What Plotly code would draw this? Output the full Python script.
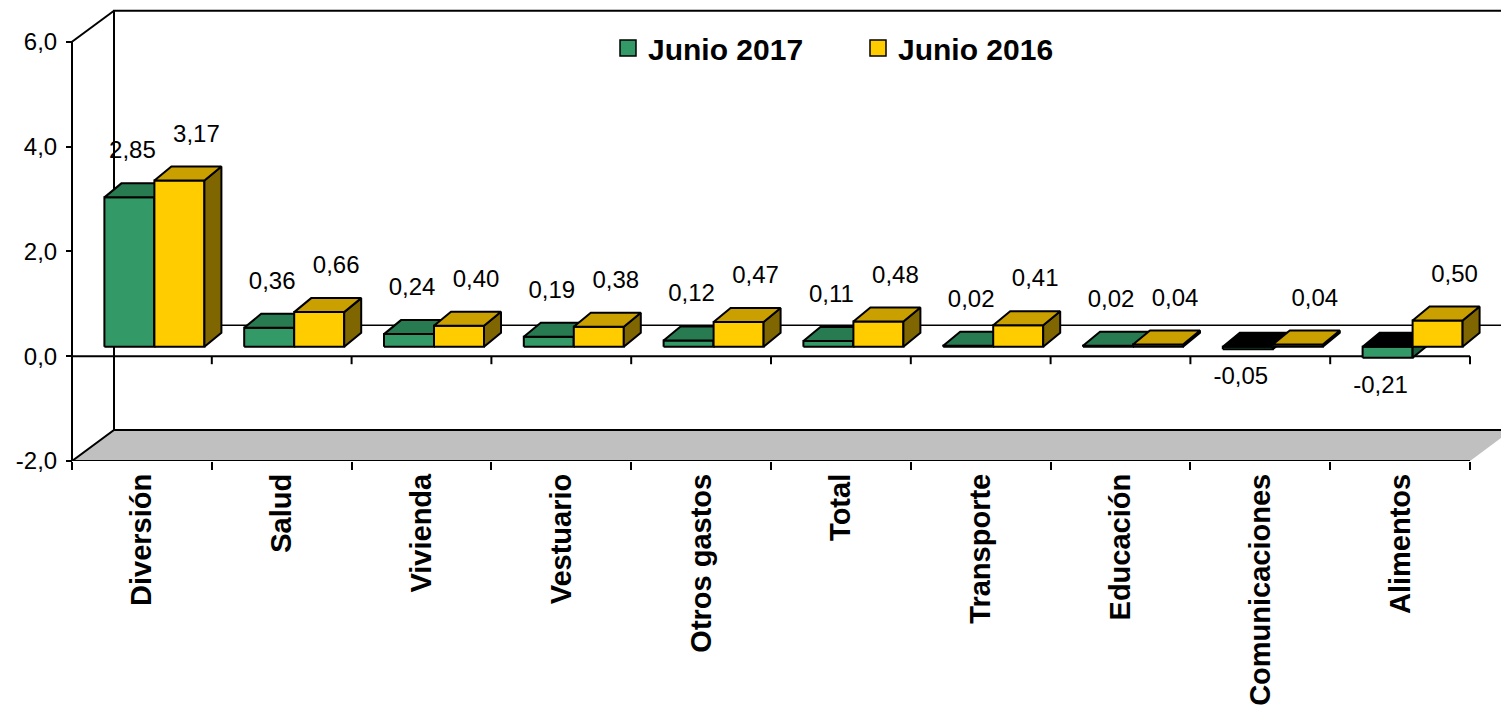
import plotly.graph_objects as go

# ---------------- data ----------------
categories = ["Diversión", "Salud", "Vivienda", "Vestuario", "Otros gastos",
              "Total", "Transporte", "Educación", "Comunicaciones", "Alimentos"]
jun2017 = [2.85, 0.36, 0.24, 0.19, 0.12, 0.11, 0.02, 0.02, -0.05, -0.21]
jun2016 = [3.17, 0.66, 0.40, 0.38, 0.47, 0.48, 0.41, 0.04, 0.04, 0.50]
series_names = ["Junio 2017", "Junio 2016"]
y_tickvals = [-2, 0, 2, 4, 6]
y_ticktext = ["-2,0", "0,0", "2,0", "4,0", "6,0"]

# ---------------- geometry / style ----------------
W, H = 1501, 719
PX_X = 139.8   # pixels per category
PX_Y = 52.4    # pixels per value unit
plot_left_px, plot_right_px = 60, 1501
plot_top_px, plot_bottom_px = 5, 461
axis_left_px = 72
FONT = "Liberation Sans, Arial, sans-serif"


def ux(px):
    return px / PX_X


def uy(px):
    return px / PX_Y


n = len(categories)
centers = list(range(n))
bounds = [i - 0.5 for i in range(n + 1)]
x_lo = -0.5 - ux(axis_left_px - plot_left_px)
x_hi = x_lo + ux(plot_right_px - plot_left_px)
y_lo = y_tickvals[0]
y_hi = y_lo + uy(plot_bottom_px - plot_top_px)
y_top_front = y_tickvals[-1]

WALL_DX, WALL_DY = ux(42), uy(31)
FRONT_DX, FRONT_DY = ux(12.5), uy(9.5)
BAR_DX, BAR_DY = ux(17), uy(14)
BAR_W = ux(50)

front_col = ["#339966", "#FFCC00"]
top_col = ["#287A50", "#C9A000"]
side_col = ["#1F5F3E", "#806600"]
neg_top_col = "#000000"

fig = go.Figure()


def poly(xs, ys, color, width=2, line_color="black"):
    fig.add_trace(go.Scatter(
        x=xs + [xs[0]], y=ys + [ys[0]], mode="lines", fill="toself",
        fillcolor=color, line=dict(color=line_color, width=width),
        hoverinfo="skip", showlegend=False))


def seg(xs, ys, width=2):
    fig.add_trace(go.Scatter(x=xs, y=ys, mode="lines",
                             line=dict(color="black", width=width),
                             hoverinfo="skip", showlegend=False))


# floor
fx0, fx1 = bounds[0], bounds[-1]
poly([fx0, fx0 + WALL_DX, fx1 + WALL_DX, fx1],
     [y_lo, y_lo + WALL_DY, y_lo + WALL_DY, y_lo], "#C0C0C0", width=0,
     line_color="rgba(0,0,0,0)")
seg([fx0, fx0 + WALL_DX, fx1 + WALL_DX], [y_lo, y_lo + WALL_DY, y_lo + WALL_DY])
# back wall left edge + top
seg([fx0 + WALL_DX, fx0 + WALL_DX, fx1 + WALL_DX],
    [y_lo + WALL_DY, y_top_front + WALL_DY, y_top_front + WALL_DY])
seg([fx0, fx0 + WALL_DX], [y_top_front, y_top_front + WALL_DY])
# back wall zero line
seg([fx0 + WALL_DX, fx1 + WALL_DX], [WALL_DY, WALL_DY], width=1.5)
# front value axis line and bottom axis line
seg([fx0, fx0], [y_lo, y_top_front])
seg([fx0, fx1], [y_lo, y_lo])
# front zero line with category ticks
seg([fx0, fx1], [0, 0])
zx, zy = [], []
for b in bounds:
    zx += [b, b, None]
    zy += [0, -uy(8), None]
seg(zx, zy)

# bars (painter's order)
label_x, label_y, label_t = [], [], []
for i in range(n):
    for s, vals in enumerate([jun2017, jun2016]):
        v = vals[i]
        x0 = centers[i] + FRONT_DX + (s - 1) * BAR_W
        x1 = x0 + BAR_W
        base = FRONT_DY
        lo, hi = base + min(v, 0), base + max(v, 0)
        # front face
        poly([x0, x1, x1, x0], [lo, lo, hi, hi], front_col[s])
        # side face
        poly([x1, x1 + BAR_DX, x1 + BAR_DX, x1],
             [lo, lo + BAR_DY, hi + BAR_DY, hi], side_col[s])
        # top face
        poly([x0, x1, x1 + BAR_DX, x0 + BAR_DX],
             [hi, hi, hi + BAR_DY, hi + BAR_DY],
             top_col[s] if v >= 0 else neg_top_col)
        cx = (x0 + x1) / 2
        if v >= 0:
            label_x.append(cx + (ux(17) if s == 1 else ux(3)))
            label_y.append(base + v + uy(45))
        else:
            label_x.append(cx - ux(7))
            label_y.append(base + v - uy(29))
        label_t.append(f"{v:.2f}".replace(".", ","))

fig.add_trace(go.Scatter(
    x=label_x, y=label_y, text=label_t, mode="text", xaxis="x2", yaxis="y",
    textfont=dict(family=FONT, size=24, color="black"),
    textposition="middle center", cliponaxis=False, hoverinfo="skip",
    showlegend=False))

# legend entries
for s, name in enumerate(series_names):
    fig.add_trace(go.Scatter(
        x=[None], y=[None], mode="markers", name=name,
        marker=dict(symbol="square", size=18, color=front_col[s],
                    line=dict(color="black", width=1.5))))

fig.update_layout(
    width=W, height=H,
    margin=dict(l=0, r=0, t=0, b=0, autoexpand=False),
    paper_bgcolor="white", plot_bgcolor="white",
    font=dict(family=FONT, color="black"),
    showlegend=True,
    legend=dict(orientation="h", x=608 / W, xanchor="left",
                y=(H - 48) / H, yanchor="middle",
                font=dict(family=FONT, size=30, weight="bold", color="black"),
                bgcolor="rgba(0,0,0,0)", entrywidth=205, entrywidthmode="pixels",
                itemclick=False),
    xaxis=dict(domain=[plot_left_px / W, plot_right_px / W], range=[x_lo, x_hi],
               anchor="y", tickmode="array", tickvals=bounds,
               ticktext=[""] * len(bounds), ticks="outside", ticklen=8,
               tickwidth=2, tickcolor="black", showgrid=False, zeroline=False,
               showline=False, automargin=False),
    xaxis2=dict(overlaying="x", anchor="y", range=[x_lo, x_hi], tickmode="array",
                tickvals=centers, ticktext=categories, tickangle=-90,
                tickfont=dict(family=FONT, size=29, weight="bold", color="black"),
                ticks="", showgrid=False, zeroline=False, showline=False,
                side="bottom", automargin=False, ticklabelstandoff=6),
    yaxis=dict(domain=[(H - plot_bottom_px) / H, (H - plot_top_px) / H],
               range=[y_lo, y_hi], anchor="free", position=axis_left_px / W,
               tickmode="array", tickvals=y_tickvals, ticktext=y_ticktext,
               ticks="outside", ticklen=6, tickwidth=2, tickcolor="black",
               tickfont=dict(family=FONT, size=24, color="black"),
               showgrid=False, zeroline=False, showline=False,
               automargin=False, ticklabelstandoff=4),
)

fig.write_html("out.html", config={"displayModeBar": False},
               post_script="document.body.style.margin='0px';")
